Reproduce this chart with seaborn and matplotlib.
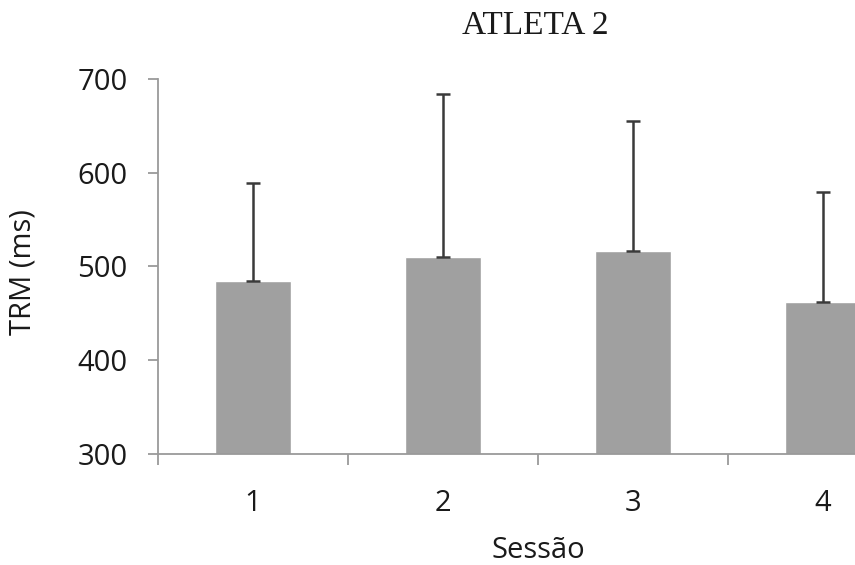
import matplotlib
matplotlib.use("Agg")
from matplotlib import pyplot as plt
import numpy as np
import pandas as pd
import seaborn as sns

# valores
sessoes = ["1", "2", "3", "4"]
trm_media = [484, 510, 516, 462]
trm_dp = [105, 174, 139, 117]

data = pd.DataFrame({"sessao": sessoes, "trm": trm_media})

sns.set_style("white")
plt.rcParams["font.family"] = ["Open Sans", "DejaVu Sans"]

fig = plt.figure(figsize=(8.55, 5.65), dpi=100)
ax = fig.add_axes([0.1848, 0.1965, 0.8889, 0.6637])

sns.barplot(data=data, x="sessao", y="trm", color="#a0a0a0", width=0.4,
            errorbar=None, saturation=1, ax=ax)

# barras de erro so para cima
x_pos = np.arange(len(sessoes))
ax.errorbar(x_pos, trm_media, yerr=[np.zeros(len(trm_dp)), trm_dp], fmt="none",
            ecolor="#3a3a3a", elinewidth=1.8, capsize=5, capthick=1.8)

ax.set_ylim(300, 700)
ax.set_yticks([300, 400, 500, 600, 700])
ax.set_xlim(-0.5, 3.5)

sns.despine(ax=ax)
for s in ["left", "bottom"]:
    ax.spines[s].set_color("#9a9a9a")
    ax.spines[s].set_linewidth(1.3)

ax.set_xticks(x_pos)
ax.set_xticklabels(sessoes)
ax.set_xticks([-0.5, 0.5, 1.5, 2.5, 3.5], minor=True)
ax.tick_params(axis="x", which="major", length=0, pad=25, labelsize=21, labelcolor="#1a1a1a")
ax.tick_params(axis="x", which="minor", length=8, width=1.3, color="#9a9a9a", direction="out", bottom=True)
ax.tick_params(axis="y", length=7, width=1.3, color="#9a9a9a", pad=15, labelsize=21,
               labelcolor="#1a1a1a", left=True)

ax.set_xlabel("Sessão", fontsize=21, color="#1a1a1a")
ax.xaxis.set_label_coords(0.5, -0.218)
ax.set_ylabel("TRM (ms)", fontsize=21, color="#1a1a1a")
ax.yaxis.set_label_coords(-0.158, 0.484)

fig.text(535 / 855, 1 - 26 / 565, "ATLETA 2", ha="center", va="center",
         fontsize=24, family=["Liberation Serif", "DejaVu Serif"], color="#1a1a1a")

plt.savefig("out.png", dpi=100)
